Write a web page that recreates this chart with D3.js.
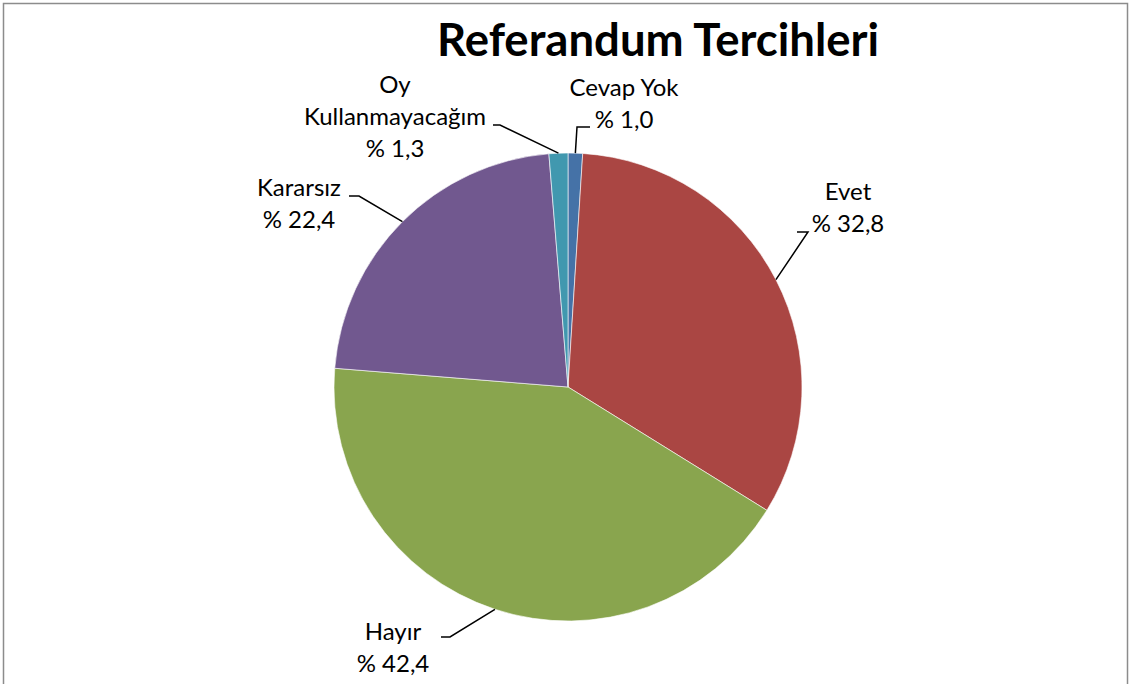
<!DOCTYPE html>
<html><head><meta charset="utf-8">
<script src="https://cdn.jsdelivr.net/npm/d3@7"></script>
<style>body{margin:0;background:#fff}svg{display:block}text{font-family:Lato,"Open Sans",sans-serif;fill:#000}</style>
</head><body><svg id="c" width="1131" height="684"></svg>
<script>
const categories = ["Cevap Yok","Evet","Hayır","Kararsız","Oy Kullanmayacağım"];
const values = [1.0, 32.8, 42.4, 22.4, 1.3];
const labelLines = [["Cevap Yok","% 1,0"],["Evet","% 32,8"],["Hayır","% 42,4"],["Kararsız","% 22,4"],["Oy","Kullanmayacağım","% 1,3"]];
const colors = ["#4572A7","#AA4643","#89A54E","#71588F","#4198AF"];
// label layout: text centre x, first baseline y, leader elbow point, leader end point near text
const labelLayout = [
  {x:624, y:96, elbow:[577,127], end:[590,127]},
  {x:848, y:200, elbow:[808,232], end:[797,232]},
  {x:393, y:640, elbow:[450,637], end:[441,637]},
  {x:299, y:196, elbow:[359,196], end:[349,196]},
  {x:395, y:93, elbow:[500,125], end:[493,125]}
];

const svg = d3.select("#c");
svg.append("rect").attr("x",3.5).attr("y",3.5).attr("width",1124).attr("height",700)
  .attr("fill","#fff").attr("stroke","#8c8c8c").attr("stroke-width",1.5);

svg.append("text").attr("x",658).attr("y",56).attr("text-anchor","middle")
  .style("font-weight","bold").style("font-size","45.5px").text("Referandum Tercihleri");

const cx = 568, cy = 387, R = 234;
const pie = d3.pie().sort(null).value(d=>d)(values);
const arc = d3.arc().innerRadius(0).outerRadius(R);
const g = svg.append("g").attr("transform",`translate(${cx},${cy})`);
g.selectAll("path").data(pie).join("path").attr("d",arc)
  .attr("fill",(d,i)=>colors[i]).attr("stroke","#fff").attr("stroke-width",0.6);

pie.forEach((d,i)=>{
  const a = (d.startAngle+d.endAngle)/2;
  const px = cx + R*Math.sin(a), py = cy - R*Math.cos(a);
  const L = labelLayout[i];
  svg.append("polyline").attr("points",[[px,py],L.elbow,L.end].map(p=>p.join(",")).join(" "))
    .attr("fill","none").attr("stroke","#000").attr("stroke-width",1.5);
  const t = svg.append("text").attr("text-anchor","middle").style("font-size","24px");
  labelLines[i].forEach((s,k)=>t.append("tspan").attr("x",L.x).attr("y",L.y+k*32).text(s));
});
</script></body></html>
